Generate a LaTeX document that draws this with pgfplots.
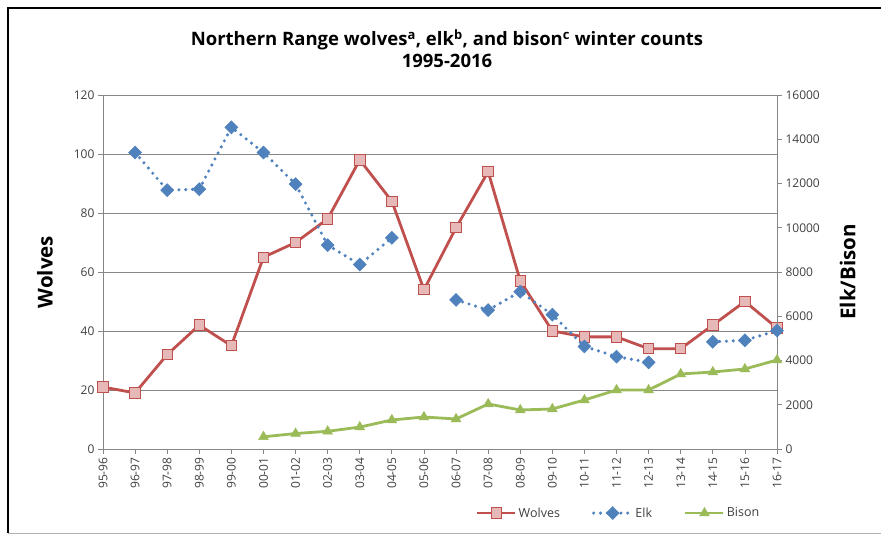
\documentclass[border=0pt]{standalone}
\usepackage{pgfplots}
\pgfplotsset{compat=1.18}
\usepackage{fontspec}
\setmainfont{Open Sans}
\definecolor{wred}{RGB}{192,80,77}
\definecolor{wpink}{RGB}{230,185,184}
\definecolor{eblue}{RGB}{79,129,189}
\definecolor{bgreen}{RGB}{155,187,89}
\definecolor{gridc}{RGB}{134,134,134}
\definecolor{tickc}{RGB}{64,64,64}
\pgfplotsset{
  common/.style={
    at={(103pt,88pt)}, anchor=south west, scale only axis,
    width=674pt, height=354pt,
    xmin=0, xmax=21,
    tick align=outside, major tick length=5pt,
    tick style={gridc, line width=0.8pt},
    axis line style={-, gridc, line width=0.8pt},
    tick label style={font=\fontsize{12}{14}\selectfont, text=tickc},
    /pgf/number format/assume math mode=true,
    /pgf/number format/set thousands separator={},
    label style={font=\bfseries\fontsize{20.5}{22}\selectfont},
    legend image code/.code={\draw[mark repeat=2,mark phase=2] plot coordinates {(0pt,0pt) (19pt,0pt) (38pt,0pt)};},
  }
}
\begin{document}
\begin{tikzpicture}[x=1pt,y=1pt]
\useasboundingbox (0pt,0pt) rectangle (881pt,537pt);
\draw[black, line width=2.6pt] (881pt,529pt) -- (8pt,529pt) -- (8pt,3.5pt);
\draw[gray!60, line width=1pt] (8pt,3.5pt) -- (881pt,3.5pt);
\node[font=\bfseries\fontsize{18.5}{22}\selectfont, align=center] at (447pt,488pt)
  {Northern Range wolves\textsuperscript{a}, elk\textsuperscript{b}, and bison\textsuperscript{c} winter counts\\1995-2016};

\begin{axis}[common,
  ymin=0, ymax=120, ytick={0,20,...,120},
  axis x line*=bottom, axis y line*=left,
  ymajorgrids, grid style={gridc, line width=0.8pt},
  xtick={0,...,21},
  xticklabels={95-96,96-97,97-98,98-99,99-00,00-01,01-02,02-03,03-04,04-05,05-06,06-07,07-08,08-09,09-10,10-11,11-12,12-13,13-14,14-15,15-16,16-17},
  x tick label style={rotate=90, anchor=east},
  ylabel={Wolves},
  ylabel style={at={(axis description cs:-0.086,0.5)}, anchor=center, rotate=0},
  clip=false,
]
\addplot[wred, line width=2.8pt, mark=square*, mark size=5.2pt,
  mark options={fill=wpink, draw=wred, line width=0.9pt}]
  coordinates {(0,21)(1,19)(2,32)(3,42)(4,35)(5,65)(6,70)(7,78)(8,98)(9,84)(10,54)(11,75)(12,94)(13,57)(14,40)(15,38)(16,38)(17,34)(18,34)(19,42)(20,50)(21,41)};
\end{axis}

\begin{axis}[common,
  ymin=0, ymax=16000, ytick={0,2000,...,16000},
  scaled y ticks=false,
  axis x line=none, axis y line*=right,
  ylabel={Elk/Bison},
  ylabel style={at={(axis description cs:1.105,0.5)}, anchor=center, rotate=0},
  unbounded coords=jump,
  clip=false,
  legend columns=3,
  legend style={at={(0.765,-0.181)}, anchor=center, draw=none, fill=none,
    font=\fontsize{12.5}{14}\selectfont, text=tickc,
    /tikz/every even column/.append style={column sep=30pt}},
]
\addlegendimage{wred, line width=2.8pt, mark=square*, mark size=5.2pt,
  mark options={fill=wpink, draw=wred, line width=0.9pt}}
\addlegendentry{Wolves}
\addplot[eblue, line width=3.4pt, line cap=round, dash pattern=on 0pt off 6.8pt,
  mark=square*, mark size=4.6pt, mark options={rotate=45, solid, fill=eblue, draw=eblue, line width=0.5pt}]
  coordinates {(1,13400)(2,11700)(3,11742)(4,14538)(5,13400)(6,11969)(7,9215)(8,8335)(9,9545)(10,nan)(11,6738)(12,6279)(13,7109)(14,6070)(15,4635)(16,4174)(17,3915)(18,nan)(19,4844)(20,4912)(21,5349)};
\addlegendentry{Elk}
\addplot[bgreen, line width=2.8pt, mark=triangle*, mark size=5.6pt,
  mark options={fill=bgreen, draw=bgreen, line width=0.5pt}]
  coordinates {(5,550)(6,700)(7,800)(8,990)(9,1311)(10,1446)(11,1356)(12,2034)(13,1763)(14,1808)(15,2215)(16,2667)(17,2667)(18,3390)(19,3480)(20,3616)(21,4023)};
\addlegendentry{Bison}
\end{axis}
\end{tikzpicture}
\end{document}
